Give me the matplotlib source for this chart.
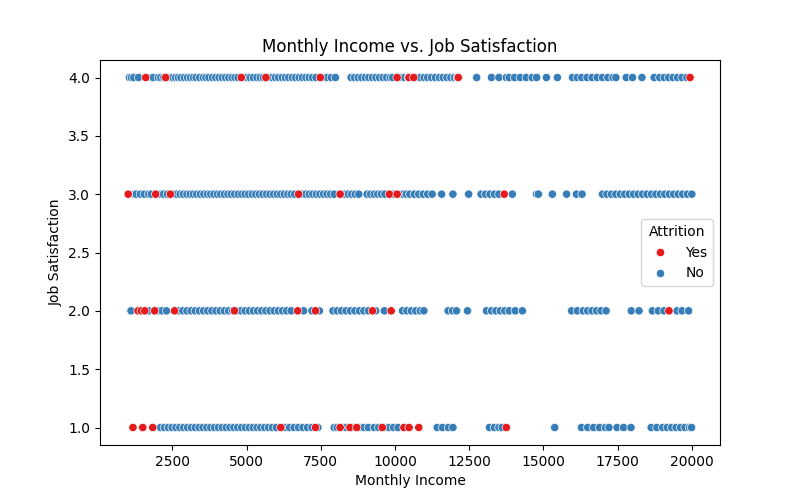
import matplotlib
matplotlib.use("Agg")
import matplotlib.pyplot as plt
import pandas as pd
import seaborn as sns

# Monthly income values, grouped by job satisfaction level and attrition
sat4_no = [1051, 1118, 1200, 1359, 1790, 1859, 2022, 2107, 2210, 2380, 2450, 2520, 2610,
           2700, 2790, 2900, 3010, 3110, 3210, 3300, 3420, 3540, 3630, 3730, 3850, 3960,
           4070, 4180, 4290, 4400, 4510, 4610, 4710, 4900, 5010, 5120, 5230, 5350, 5460,
           5570, 5750, 5860, 5970, 6080, 6200, 6310, 6420, 6540, 6650, 6770, 6880, 7000,
           7110, 7220, 7340, 7600, 7720, 7850, 7990, 8520, 8640, 8760, 8880, 9000, 9120,
           9240, 9360, 9480, 9600, 9720, 9840, 9920, 10200, 10320, 10450, 10580, 10720,
           10850, 10980, 11100, 11230, 11360, 11500, 11620, 11750, 11880, 12000, 12100,
           12750, 13250, 13500, 13750, 13850, 14030, 14220, 14420, 14620, 14770, 15100,
           15470, 15980, 16140, 16290, 16470, 16640, 16810, 16990, 17170, 17340, 17440,
           17790, 18000, 18320, 18730, 18920, 19070, 19220, 19370, 19520, 19670, 19830]
sat4_yes = [1600, 2270, 4820, 5650, 7480, 10070, 10470, 10630, 12130, 19940]

sat3_no = [1200, 1280, 1420, 1550, 1700, 1790, 2020, 2100, 2200, 2330, 2550, 2650, 2760,
           2870, 2990, 3100, 3210, 3320, 3440, 3560, 3680, 3790, 3900, 4020, 4130, 4250,
           4370, 4480, 4600, 4720, 4840, 4950, 5070, 5190, 5310, 5430, 5550, 5670, 5790,
           5910, 6030, 6150, 6270, 6390, 6500, 6620, 6870, 6990, 7110, 7230, 7350, 7470,
           7590, 7710, 7830, 7950, 8300, 8420, 8540, 8660, 8780, 9060, 9180, 9300, 9420,
           9540, 9660, 9950, 10150, 10270, 10380, 10500, 10650, 10800, 10950, 11100, 11250,
           11570, 11950, 12480, 12900, 13050, 13200, 13350, 13500, 13950, 14770, 14830,
           15300, 15780, 16110, 16300, 16990, 17140, 17290, 17440, 17590, 17740, 17890,
           18040, 18190, 18340, 18490, 18640, 18790, 18940, 19090, 19240, 19390, 19540,
           19690, 19850, 19999]
sat3_yes = [1009, 1935, 2430, 6750, 8150, 9810, 10070, 13680]

sat2_no = [1105, 1700, 2000, 2150, 2300, 2700, 2850, 2990, 3130, 3270, 3410, 3550, 3690,
           3830, 3970, 4110, 4250, 4390, 4530, 4670, 4810, 4950, 5090, 5230, 5370, 5510,
           5650, 5790, 5930, 6070, 6210, 6350, 6500, 6920, 7200, 7450, 7910, 8050, 8200,
           8350, 8500, 8650, 8800, 8950, 9100, 9350, 9640, 10250, 10400, 10550, 10700,
           10850, 10970, 11790, 11940, 12070, 12440, 13080, 13250, 13400, 13550, 13700,
           13850, 14050, 14290, 15950, 16140, 16340, 16490, 16640, 16790, 16940, 17110,
           17960, 18220, 18670, 18870, 19060, 19500, 19670, 19890]
sat2_yes = [1340, 1450, 1570, 1900, 2570, 4590, 6720, 7320, 9240, 9870, 19230]

sat1_no = [2100, 2230, 2360, 2490, 2620, 2750, 2880, 3010, 3140, 3270, 3400, 3530, 3660,
           3790, 3920, 4050, 4180, 4310, 4440, 4570, 4700, 4830, 4960, 5090, 5220, 5350,
           5480, 5610, 5740, 5870, 6000, 6300, 6450, 6600, 6750, 6900, 7050, 7200, 7400,
           7950, 8050, 8200, 8350, 8500, 8650, 8800, 8950, 9100, 9300, 9450, 9650, 9800,
           9950, 10100, 11420, 11600, 11800, 11950, 13180, 13350, 13500, 13610, 15380,
           16280, 16490, 16690, 16890, 17090, 17210, 17480, 17700, 17950, 18630, 18820,
           19020, 19170, 19320, 19470, 19620, 19770, 19920, 19990]
sat1_yes = [1170, 1500, 1836, 6150, 7320, 8150, 8480, 8710, 9570, 10300, 10473, 10800,
            13750]

groups = [
    (4, "No", sat4_no), (3, "No", sat3_no), (2, "No", sat2_no), (1, "No", sat1_no),
    (4, "Yes", sat4_yes), (3, "Yes", sat3_yes), (2, "Yes", sat2_yes), (1, "Yes", sat1_yes),
]
rows = []
for level, attr, incomes in groups:
    for inc in incomes:
        rows.append({"MonthlyIncome": inc, "JobSatisfaction": float(level), "Attrition": attr})
df = pd.DataFrame(rows)

fig, ax = plt.subplots(figsize=(8, 5), dpi=100)
sns.scatterplot(data=df, x="MonthlyIncome", y="JobSatisfaction", hue="Attrition",
                hue_order=["Yes", "No"], palette="Set1", ax=ax)
ax.set_title("Monthly Income vs. Job Satisfaction")
ax.set_xlabel("Monthly Income")
ax.set_ylabel("Job Satisfaction")
ax.legend(title="Attrition", loc="center right")

fig.savefig("out.png", dpi=100)
